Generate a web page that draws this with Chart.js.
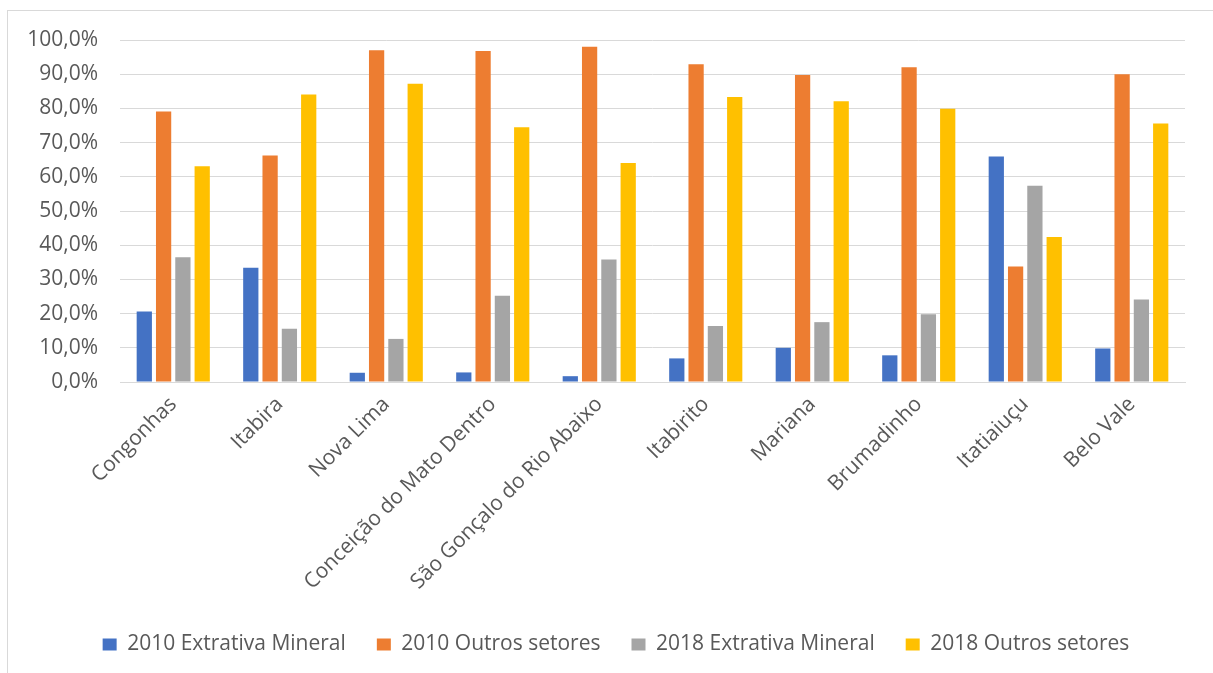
<!DOCTYPE html>
<html>
<head>
<meta charset="utf-8">
<script src="https://cdn.jsdelivr.net/npm/chart.js@4"></script>
<style>
  html, body { margin: 0; padding: 0; background: #fff; }
  #wrap { position: relative; width: 1213px; height: 673px; overflow: hidden; }
  #frame { position: absolute; left: 7px; top: 10px; width: 1300px; height: 800px;
           border-left: 1px solid #d9d9d9; border-top: 1px solid #d9d9d9; }
  canvas { position: absolute; left: 0; top: 0; }
</style>
</head>
<body>
<div id="wrap">
  <div id="frame"></div>
  <canvas id="chart" width="1213" height="673"></canvas>
</div>
<script>
const municipios = ['Congonhas', 'Itabira', 'Nova Lima', 'Conceição do Mato Dentro', 'São Gonçalo do Rio Abaixo',
  'Itabirito', 'Mariana', 'Brumadinho', 'Itatiaiuçu', 'Belo Vale'];

const extrativa2010 = [20.6, 33.4, 2.7, 2.8, 1.7, 6.9, 10.0, 7.8, 65.9, 9.8];
const outros2010 = [79.1, 66.2, 97.0, 96.8, 98.0, 92.9, 89.8, 92.0, 33.8, 90.0];
const extrativa2018 = [36.5, 15.6, 12.6, 25.2, 35.8, 16.4, 17.5, 19.8, 57.4, 24.1];
const outros2018 = [63.1, 84.1, 87.2, 74.5, 64.0, 83.3, 82.1, 79.9, 42.4, 75.6];

const fontFamily = '"Open Sans", "Noto Sans", sans-serif';
const textColor = '#595959';

function serie(label, data, color) {
  return {
    label: label,
    data: data,
    backgroundColor: color,
    borderWidth: 0,
    categoryPercentage: 0.725,
    barPercentage: 0.79
  };
}

// the legend in the original is centred on the frame, not on the canvas
const shiftLegend = {
  id: 'shiftLegend',
  afterLayout(chart) {
    chart.legend.left += 47;
  }
};

const ctx = document.getElementById('chart').getContext('2d');
const chart = new Chart(ctx, {
  type: 'bar',
  data: {
    labels: municipios,
    datasets: [
      serie('2010 Extrativa Mineral', extrativa2010, '#4472C4'),
      serie('2010 Outros setores', outros2010, '#ED7D31'),
      serie('2018 Extrativa Mineral', extrativa2018, '#A5A5A5'),
      serie('2018 Outros setores', outros2018, '#FFC000')
    ]
  },
  options: {
    responsive: false,
    animation: false,
    layout: {
      padding: { left: 0, right: 28, top: 40, bottom: 8 }
    },
    plugins: {
      tooltip: { enabled: false },
      legend: {
        position: 'bottom',
        labels: {
          color: textColor,
          font: { family: fontFamily, size: 21 },
          boxWidth: 14,
          boxHeight: 12,
          padding: 31
        }
      }
    },
    scales: {
      x: {
        grid: { display: false, drawTicks: false },
        border: { color: '#d9d9d9', width: 1 },
        ticks: {
          color: textColor,
          font: { family: fontFamily, size: 21 },
          minRotation: 45,
          maxRotation: 45,
          autoSkip: false,
          padding: 10
        },
        afterFit: function (scale) { scale.height = 221; }
      },
      y: {
        min: 0,
        max: 100,
        grid: { color: '#d9d9d9', lineWidth: 1, drawTicks: false },
        border: { display: false },
        ticks: {
          stepSize: 10,
          color: textColor,
          font: { family: fontFamily, size: 21 },
          padding: 22,
          callback: function (v) { return v.toFixed(1).replace('.', ',') + '%'; }
        },
        afterFit: function (scale) { scale.width = 120; }
      }
    }
  },
  plugins: [shiftLegend]
});
</script>
</body>
</html>
